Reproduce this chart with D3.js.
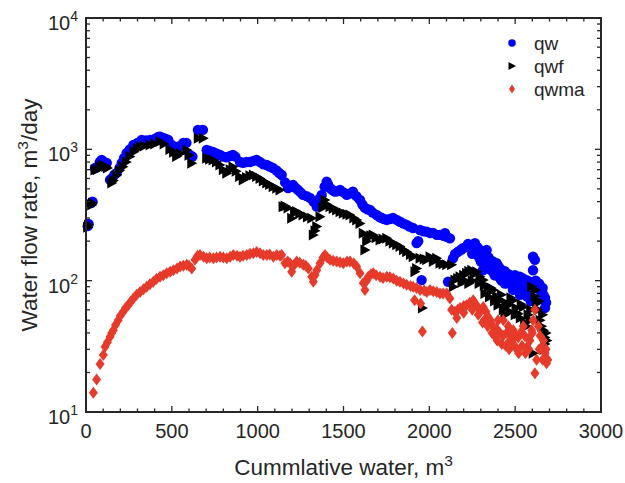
<!DOCTYPE html>
<html><head><meta charset="utf-8">
<script src="https://cdn.jsdelivr.net/npm/d3@7"></script>
<style>body{margin:0;background:#fff} text{font-family:"Liberation Sans",Arial,Helvetica,sans-serif;fill:#262626}</style>
</head><body><svg id="c" width="625" height="483"></svg>
<script>
const xTicks=[0,500,1000,1500,2000,2500,3000];
const yTicks=[10,100,1000,10000];
const yTickExp=["1","2","3","4"];
const seriesNames=["qw","qwf","qwma"];
const seriesColors=["#0000ff","#000000","#e63a2a"];

const qwCum=[10,15,30,38,52,65,80,91,105,121,140,150,165,179,195,208,222,237,255,276,300,324,350,373,400,420,431,450,465,479,500,518,540,567,585,606,620,652,681,703,720,740,760,781,800,820,840,856,870,897,915,935,955,975,994,1014,1033,1053,1070,1089,1110,1125,1140,1160,1177,1190,1206,1220,1235,1250,1264,1285,1305,1325,1344,1360,1373,1390,1402,1410,1421,1435,1450,1465,1480,1500,1519,1535,1555,1575,1596,1610,1625,1640,1654,1670,1693,1710,1722,1737,1752,1770,1788,1810,1829,1850,1868,1885,1905,1926,1935,1946,1955,1966,1985,2005,2021,2043,2062,2080,2091,2101,2109,2120,2138,2150,2167,2185,2196,2215,2237,2255,2266,2280,2295,2312,2320,2334,2345,2353,2370,2392,2400,2412,2429,2440,2450,2460,2470,2487,2499,2510,2528,2528,2545,2567,2567,2586,2595,2604,2615,2604,2625,2636,2645,2655,2665,2674,2674,2680,
  2250,2290,2330,2360,2380,2420,2440,2480,2520,2540,2560,2580,2590,2620,2640,2660,2225,2270,2300,2410,2475];
const qwRate=[260,270,390,400,720,730,800,830,800,787,585,600,640,661,720,787,860,940,1000,1080,1120,1178,1170,1178,1200,1240,1250,1220,1200,1178,1080,989,1050,1119,1120,906,880,1406,1406,989,970,955,930,906,880,870,890,906,880,801,790,800,801,816,830,800,770,760,740,721,690,660,638,560,508,520,535,510,491,470,450,440,427,400,366,420,450,520,568,540,508,490,476,480,491,470,450,460,476,440,412,380,358,350,345,330,316,305,300,295,290,295,300,290,281,272,266,258,252,193,200,243,101,238,236,230,231,223,223,220,230,216,98,210,148,160,166,172,177,180,182,188,193,180,171,120,165,171,150,144,140,136,130,124,114,118,96,112,110,85,110,105,107,78,104,101,76,98,90,152,144,120,95,92,85,80,78,74,62,68,
  160,150,130,120,110,100,95,92,90,82,88,80,70,100,95,88,190,175,140,105,100];

const qwfCum=[10,15,33,38,52,65,80,99,115,125,150,160,179,195,215,235,256,280,300,315,340,373,400,431,455,489,510,528,550,587,600,616,654,683,703,720,740,760,780,800,820,840,856,875,895,916,935,955,975,994,1014,1033,1053,1070,1090,1111,1130,1148,1160,1177,1198,1215,1227,1245,1264,1290,1315,1324,1334,1344,1363,1380,1392,1405,1421,1440,1460,1480,1499,1520,1538,1560,1577,1596,1615,1625,1635,1644,1660,1673,1690,1713,1730,1752,1770,1790,1810,1829,1850,1868,1890,1906,1916,1926,1946,1960,1970,1985,2004,2023,2043,2062,2080,2101,2130,2140,2149,2165,2179,2200,2217,2230,2247,2260,2276,2295,2314,2324,2343,2360,2372,2392,2412,2431,2445,2460,2475,2489,2505,2518,2535,2547,2567,2575,2586,2596,2605,2615,2625,2635,2645,2654,2665,2674,2674,2680,
  2250,2290,2320,2350,2380,2400,2420,2440,2470,2500,2530,2555,2590,2620,2640,2660,2685,2670,2230,2210,2190];
const qwfRate=[255,265,377,390,696,700,740,760,740,720,555,580,638,690,738,800,880,960,1010,1047,1060,1080,1100,1146,1100,997,950,880,930,990,900,783,1216,1216,855,840,830,800,760,700,657,700,738,680,620,585,610,630,638,620,600,575,553,540,520,506,491,366,370,358,299,330,336,325,316,305,299,223,240,258,307,360,412,380,366,355,345,335,326,320,316,300,290,273,230,171,200,216,220,223,212,204,208,210,200,193,188,182,172,166,158,152,117,124,148,62,146,144,152,140,148,136,134,132,132,90,101,104,107,110,114,118,120,112,117,107,101,80,90,88,85,76,71,60,68,65,74,71,62,56,66,63,45,55,50,90,28,76,67,60,50,45,42,37,33,40,
  100,95,92,75,70,65,78,55,58,55,52,48,60,85,70,55,35,30,95,100,97];

const qwmaCum=[43,62,82,101,111,125,140,150,159,172,188,200,217,230,246,260,276,295,315,335,353,372,392,410,431,450,470,490,509,530,548,567,587,600,616,635,650,664,685,703,720,742,760,781,800,820,840,858,880,897,915,936,955,975,994,1014,1033,1053,1070,1091,1111,1130,1140,1159,1175,1188,1198,1210,1227,1245,1266,1280,1295,1315,1324,1334,1344,1363,1380,1392,1405,1421,1440,1460,1480,1499,1520,1538,1560,1577,1596,1615,1625,1635,1644,1660,1673,1690,1713,1730,1752,1770,1790,1810,1829,1850,1868,1890,1906,1914,1925,1946,1949,1960,1970,1985,2004,2023,2043,2062,2080,2101,2120,2130,2134,2149,2165,2179,2200,2217,2235,2256,2275,2295,2314,2330,2343,2355,2372,2392,2400,2412,2422,2431,2450,2460,2470,2480,2489,2500,2509,2518,2530,2547,2555,2567,2575,2586,2596,2605,2615,2615,2625,2635,2645,2654,2665,2674,2680,2683,
  2250,2285,2320,2340,2365,2380,2395,2430,2445,2465,2490,2520,2540,2560,2580,2600,2640,2660,2690,2310,2200,2160];
const qwmaRate=[14,17.7,23.2,27.2,31.4,34,37.4,40,42,46,50,54,58,62,65,69,73,78,82,86,90,94,98,103,107,110,114,117,120,124,128,130,132,130,124,144,155,157,152,148,150,148,150,152,150,148,152,157,155,152,155,157,160,162,165,162,157,157,158,152,157,155,157,136,140,136,117,130,140,137,132,130,124,107,98,110,120,136,150,157,150,144,142,140,138,136,140,140,135,128,114,96,85,100,107,112,114,110,107,105,107,106,104,100,98,95,93,91,90,71,88,85,67,41,84,82,85,83,82,80,80,80,73,60,40,58,60,62,64,65,68,71,65,58,63,58,53,50,45,43,50,40,33,50,40,45,35,38,42,38,30,37,40,45,38,31,36,35,42,50,60,19.7,25,45,38,31,35,28,30,23.5,
  60,55,50,45,40,38,35,38,32,30,33,28,32,28,30,40,30,25,25,48,57,52];

const L=86,R=601,T=18,B=412;
const svg=d3.select("#c");
const x=d3.scaleLinear().domain([0,3000]).range([L,R]);
const y=d3.scaleLog().domain([10,10000]).range([B,T]);
const axisColor="#262626";

// markers
const triPath="M-4.5,-5.5L5.5,0L-4.5,5.5Z";
const diaPath="M0,-6L4.5,0L0,6L-4.5,0Z";
function drawSeries(cum,rate,kind,color){
  const g=svg.append("g");
  const data=cum.map((c,i)=>[c,rate[i]]);
  if(kind==="circle"){
    g.selectAll("circle").data(data).join("circle")
      .attr("cx",d=>x(d[0])).attr("cy",d=>y(d[1])).attr("r",5.2).attr("fill",color);
  } else {
    g.selectAll("path").data(data).join("path")
      .attr("d",kind==="tri"?triPath:diaPath)
      .attr("transform",d=>`translate(${x(d[0])},${y(d[1])})`).attr("fill",color);
  }
}
drawSeries(qwCum,qwRate,"circle",seriesColors[0]);
drawSeries(qwfCum,qwfRate,"tri",seriesColors[1]);
drawSeries(qwmaCum,qwmaRate,"dia",seriesColors[2]);

// axes box and ticks
const ax=svg.append("g").attr("stroke",axisColor).attr("fill","none");
const minorX=d3.range(0,3001,100);
minorX.forEach(v=>{
  const len=xTicks.includes(v)?6:3.5;
  ax.append("line").attr("x1",x(v)).attr("x2",x(v)).attr("y1",B).attr("y2",B-len).attr("stroke-width",1.3);
  ax.append("line").attr("x1",x(v)).attr("x2",x(v)).attr("y1",T).attr("y2",T+len).attr("stroke-width",1.3);
});
const minorY=y.ticks();
minorY.forEach(v=>{
  const len=yTicks.includes(v)?6:4;
  ax.append("line").attr("x1",L).attr("x2",L+len).attr("y1",y(v)).attr("y2",y(v)).attr("stroke-width",1.3);
  ax.append("line").attr("x1",R).attr("x2",R-len).attr("y1",y(v)).attr("y2",y(v)).attr("stroke-width",1.3);
});
ax.append("rect").attr("x",L).attr("y",T).attr("width",R-L).attr("height",B-T).attr("stroke-width",2);

// tick labels
svg.append("g").selectAll("text").data(xTicks).join("text")
  .attr("x",d=>x(d)).attr("y",B+26).attr("text-anchor","middle").attr("font-size",20).text(d=>d);
const yl=svg.append("g").selectAll("text").data(yTicks).join("text")
  .attr("x",L-8).attr("y",d=>y(d)+12).attr("text-anchor","end").attr("font-size",20);
yl.append("tspan").text("10");
yl.append("tspan").attr("dy",-9).attr("font-size",14).text((d,i)=>yTickExp[i]);

// axis titles
const xt=svg.append("text").attr("x",(L+R)/2).attr("y",475).attr("text-anchor","middle").attr("font-size",22.5);
xt.append("tspan").text("Cummlative water, m");
xt.append("tspan").attr("dy",-9).attr("font-size",15.5).text("3");
const yt=svg.append("text").attr("transform",`translate(37,${(T+B)/2}) rotate(-90)`).attr("text-anchor","middle").attr("font-size",22.5);
yt.append("tspan").text("Water flow rate, m");
yt.append("tspan").attr("dy",-9).attr("font-size",15.5).text("3");
yt.append("tspan").attr("dy",9).text("/day");

// legend
const lg=svg.append("g");
const legY=[43,66,89];
seriesNames.forEach((n,i)=>{
  const cy=legY[i];
  if(i===0) lg.append("circle").attr("cx",512).attr("cy",cy).attr("r",3.8).attr("fill",seriesColors[0]);
  else lg.append("path").attr("d",i===1?"M-3.5,-4L4,0L-3.5,4Z":"M0,-4.5L3,0L0,4.5L-3,0Z").attr("transform",`translate(512,${cy})`).attr("fill",seriesColors[i]);
  lg.append("text").attr("x",534).attr("y",cy+7).attr("font-size",19).text(n);
});
</script></body></html>
